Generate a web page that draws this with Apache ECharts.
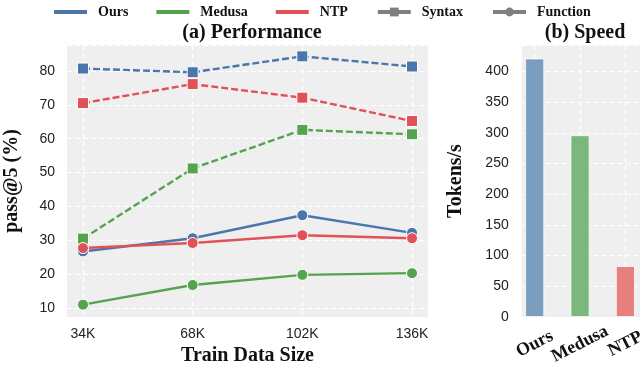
<!DOCTYPE html>
<html><head><meta charset="utf-8">
<script src="https://cdn.jsdelivr.net/npm/echarts@6/dist/echarts.min.js"></script>
<style>html,body{margin:0;padding:0;background:#fff}#c{width:640px;height:367px}</style>
</head><body><div id="c"></div>
<script>
const sizes = ['34K', '68K', '102K', '136K'];
const oursSyntax = [80.7, 79.6, 84.3, 81.3];
const medusaSyntax = [30.5, 51.2, 62.6, 61.3];
const ntpSyntax = [70.5, 76.1, 72.1, 65.2];
const oursFunction = [26.7, 30.6, 37.4, 32.2];
const medusaFunction = [11.0, 16.8, 19.8, 20.3];
const ntpFunction = [27.7, 29.2, 31.5, 30.6];
const methods = ['Ours', 'Medusa', 'NTP'];
const speed = [421, 296, 83];

const BLUE = '#4a76ac', GREEN = '#55a24f', RED = '#e05258', GRAY = '#7f7f7f';
const BAR_COLORS = ['#7b9dc0', '#7cb87c', '#e5807f'];
const SERIF = '"Liberation Serif", "Times New Roman", serif';
const SANS = '"Liberation Sans", Arial, sans-serif';
const BG = '#efefef';
const gridLine = {show: true, lineStyle: {color: '#ffffff', width: 1.2, type: [5, 3]}};
const LINE_ICON = 'path://M0,0h0.01v0.01z M0,3.5h33v4h-33z M0,11h0.01v-0.01z';

const chart = echarts.init(document.getElementById('c'), null, {renderer: 'canvas'});

function lineSeries(name, data, color, dashed) {
  return {
    type: 'line', name: name, data: data, xAxisIndex: 1, yAxisIndex: 1,
    lineStyle: {color: color, width: 2.4, type: dashed ? [7, 3] : 'solid'},
    itemStyle: {color: color, borderColor: '#ffffff', borderWidth: 1},
    symbol: dashed ? 'rect' : 'circle', symbolSize: 11,
    z: dashed ? 3 : 4, silent: true, animation: false
  };
}
function legendDummy(name, color, symbol) {
  return {
    type: 'line', name: name, data: [], xAxisIndex: 1, yAxisIndex: 1,
    lineStyle: {color: color, width: 4}, itemStyle: {color: color},
    symbol: symbol, symbolSize: 10, animation: false
  };
}
const gridBase = {outerBoundsMode: 'none', containLabel: false, borderWidth: 0};

const option = {
  backgroundColor: '#ffffff',
  animation: false,
  title: [
    {text: '(a) Performance', left: 247, top: 18, textAlign: 'center',
     textStyle: {fontFamily: SERIF, fontWeight: 'bold', fontSize: 20, color: '#111'}},
    {text: '(b) Speed', left: 580, top: 18, textAlign: 'center',
     textStyle: {fontFamily: SERIF, fontWeight: 'bold', fontSize: 20, color: '#111'}}
  ],
  legend: {
    data: [
      {name: 'Ours', icon: LINE_ICON}, {name: 'Medusa', icon: LINE_ICON}, {name: 'NTP', icon: LINE_ICON},
      {name: 'Syntax'}, {name: 'Function'}
    ],
    left: 49, top: 0, itemWidth: 33, itemHeight: 11, itemGap: 28,
    lineStyle: {width: 4},
    textStyle: {fontFamily: SERIF, fontWeight: 'bold', fontSize: 14, color: '#111', padding: [0, 0, 0, 6]}
  },
  grid: [
    Object.assign({left: 67, right: 212, top: 45, bottom: 50, show: true, backgroundColor: BG}, gridBase),
    Object.assign({left: 83, right: 228, top: 45, bottom: 50, show: false}, gridBase),
    Object.assign({left: 521.7, right: 0, top: 45, bottom: 50, show: true, backgroundColor: BG}, gridBase),
    Object.assign({left: 534.7, right: 14.6, top: 45, bottom: 50, show: false}, gridBase)
  ],
  xAxis: [
    {gridIndex: 0, type: 'value', min: 0, max: 1, show: false},
    {gridIndex: 1, type: 'category', data: sizes, boundaryGap: false,
     axisLine: {show: false}, axisTick: {show: false}, splitLine: gridLine,
     axisLabel: {fontFamily: SANS, fontSize: 14, color: '#222', margin: 10},
     name: 'Train Data Size', nameLocation: 'middle', nameGap: 29,
     nameTextStyle: {fontFamily: SERIF, fontWeight: 'bold', fontSize: 20, color: '#111'}},
    {gridIndex: 2, type: 'value', min: 0, max: 1, show: false},
    {gridIndex: 3, type: 'category', data: methods, boundaryGap: false,
     axisLine: {show: false}, axisTick: {show: false}, splitLine: gridLine,
     axisLabel: {fontFamily: SERIF, fontWeight: 'bold', fontSize: 18, color: '#111', interval: 0, hideOverlap: false,
                 rotate: 27, align: 'center', verticalAlign: 'middle', margin: 27}}
  ],
  yAxis: [
    {gridIndex: 0, type: 'value', min: 7.35, max: 87.65, splitNumber: 8,
     axisLine: {show: false}, axisTick: {show: false}, splitLine: gridLine,
     axisLabel: {fontFamily: SANS, fontSize: 14, color: '#222', margin: 12, showMinLabel: false, showMaxLabel: false},
     name: 'pass@5 (%)', nameLocation: 'middle', nameGap: 45,
     nameTextStyle: {fontFamily: SERIF, fontWeight: 'bold', fontSize: 20, color: '#111'}},
    {gridIndex: 1, type: 'value', min: 7.35, max: 87.65, show: false},
    {gridIndex: 2, type: 'value', min: 0, max: 443, interval: 50,
     axisLine: {show: false}, axisTick: {show: false}, splitLine: gridLine,
     axisLabel: {fontFamily: SANS, fontSize: 14, color: '#222', margin: 13, showMaxLabel: false},
     name: 'Tokens/s', nameLocation: 'middle', nameGap: 56,
     nameTextStyle: {fontFamily: SERIF, fontWeight: 'bold', fontSize: 20, color: '#111'}},
    {gridIndex: 3, type: 'value', min: 0, max: 443, show: false}
  ],
  series: [
    lineSeries('Ours Syntax', oursSyntax, BLUE, true),
    lineSeries('NTP Syntax', ntpSyntax, RED, true),
    lineSeries('Medusa Syntax', medusaSyntax, GREEN, true),
    lineSeries('Medusa Function', medusaFunction, GREEN, false),
    lineSeries('Ours Function', oursFunction, BLUE, false),
    lineSeries('NTP Function', ntpFunction, RED, false),
    legendDummy('Ours', BLUE, 'none'),
    legendDummy('Medusa', GREEN, 'none'),
    legendDummy('NTP', RED, 'none'),
    legendDummy('Syntax', GRAY, 'rect'),
    legendDummy('Function', GRAY, 'circle'),
    {type: 'bar', name: 'Speed', xAxisIndex: 3, yAxisIndex: 3, barWidth: 19,
     data: speed.map((v, i) => ({value: v, itemStyle: {color: BAR_COLORS[i]}})),
     itemStyle: {borderColor: '#ffffff', borderWidth: 0.8}, silent: true}
  ]
};
chart.setOption(option);
</script></body></html>
